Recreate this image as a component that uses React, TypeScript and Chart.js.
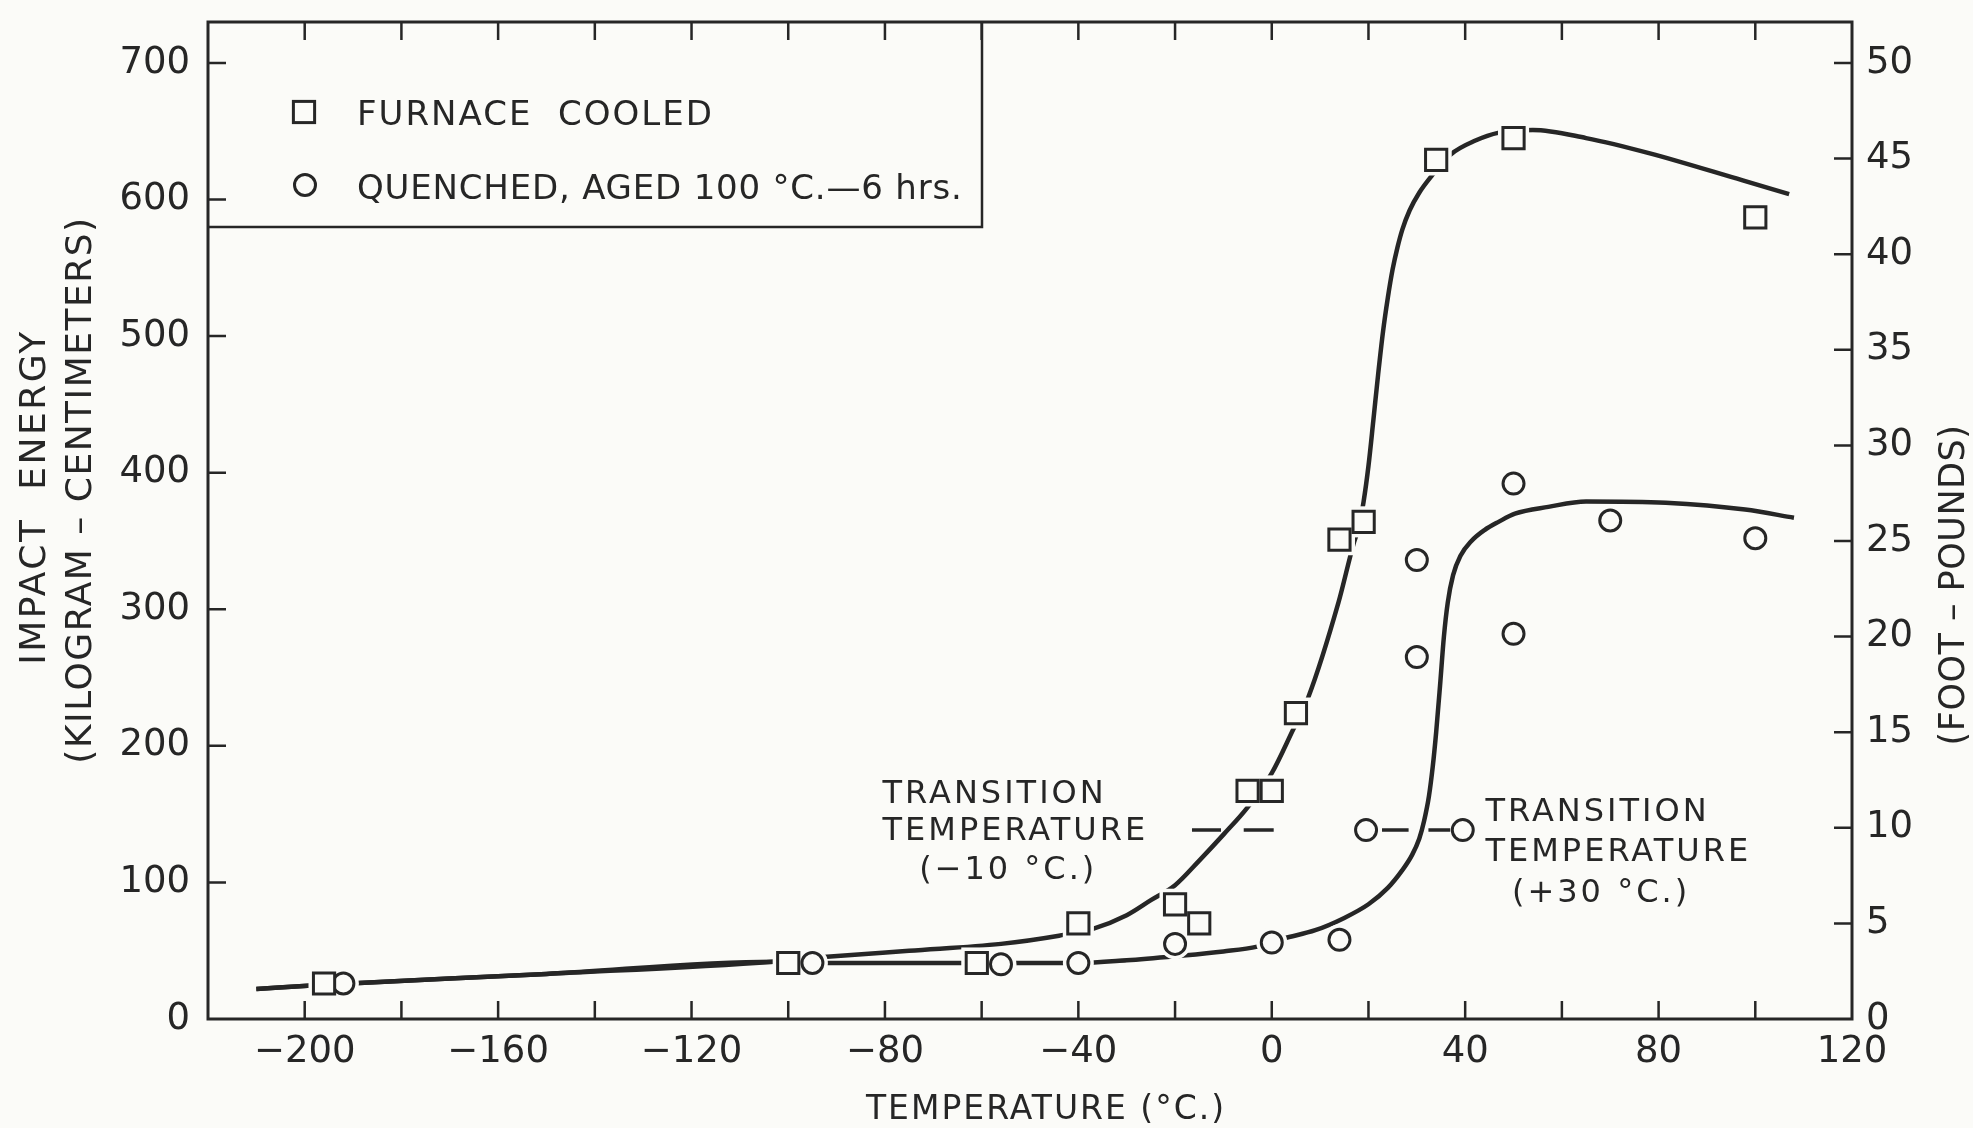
import React, { useEffect, useRef } from 'react';
import { Chart, registerables } from 'chart.js';

Chart.register(...registerables);

const W = 1973;
const H = 1128;
const BG = '#fbfbf8';
const INK = '#262626';
const FONT = '"DejaVu Sans", "Liberation Sans", sans-serif';

// ---------- measured points (temperature °C, impact energy kg-cm) ----------
const furnaceTemps = [-196, -100, -61, -40, -20, -15, -5, 0, 5, 14, 19, 34, 50, 100];
const furnaceEnergy = [26, 41, 41, 70, 84, 70, 167, 167, 224, 351, 364, 629, 645, 587];

const quenchedTemps = [-192, -95, -56, -40, -20, 0, 14, 30, 30, 50, 50, 70, 100];
const quenchedEnergy = [26, 41, 40, 41, 55, 56, 58, 336, 265, 392, 282, 365, 352];

// ---------- hand-drawn fitted curves ----------
const furnaceCurveTemps = [-210, -196, -150, -103, -92, -75, -56, -44, -37, -30, -25, -20, -15, -10, -5, 0, 4.3, 7.5, 13.8, 17, 18, 19, 20, 21, 22, 23, 24, 25, 26, 27, 28.5, 30.5, 33, 37, 42, 47, 54, 65, 78, 97.4, 107];
const furnaceCurveEnergy = [22, 25, 33, 42, 45.5, 50, 55, 61, 66, 76, 87, 98, 116, 135, 155, 180, 211, 235, 305, 349, 360, 379, 405, 438, 472, 503, 528, 549, 565, 578, 592, 605, 617, 633, 643, 649, 651, 645, 634, 614, 604];

const quenchedCurveTemps = [-210, -196, -150, -103, -92, -64, -40, -30, -20, -10, -3, 2.5, 9, 15, 20, 24, 27, 29, 30.5, 31.5, 32.5, 33.3, 34, 34.8, 35.6, 36.4, 37.5, 39, 41.3, 44, 46.9, 50.3, 57.2, 65, 81.5, 97.9, 108];
const quenchedCurveEnergy = [22, 25, 33, 42, 41, 41, 41, 43, 46, 49.5, 53, 59, 65, 74, 84, 96, 109, 120, 132, 145, 163, 185, 210, 244, 280, 305, 325, 339, 350, 358, 364, 370, 375, 379, 378, 373, 367];

// ---------- axes ----------
const X_MIN = -220;
const X_MAX = 120;
const Y_MAX = 730; // kg-cm at top of frame
const KGCM_PER_FTLB = 14; // 700 kg-cm aligned with 50 ft-lb on the drawing
const xLabelTicks = [-200, -160, -120, -80, -40, 0, 40, 80, 120];
const xMinorTicks = [-200, -180, -160, -140, -120, -100, -80, -60, -40, -20, 0, 20, 40, 60, 80, 100];
const yLeftTicks = [0, 100, 200, 300, 400, 500, 600, 700];
const yRightTicks = [0, 5, 10, 15, 20, 25, 30, 35, 40, 45, 50];

// ---------- transition-temperature annotations ----------
const transitionEnergy = 138.3; // 10 ft-lb
const leftTransitionDashes = [[-16.5, -10.5], [-5.8, 0.4]];
const rightTransitionCircles = [19.5, 39.5];
const rightTransitionDashes = [[22.8, 28.3], [32.4, 36.9]];
const leftTransitionLines = ['TRANSITION', 'TEMPERATURE', '(−10 °C.)'];
const rightTransitionLines = ['TRANSITION', 'TEMPERATURE', '(+30 °C.)'];

const legendLabels = ['FURNACE  COOLED', 'QUENCHED, AGED 100 °C.—6 hrs.'];

const SQUARE_R = 15;
const CIRCLE_R = 10.5;

const pts = (xs: number[], ys: number[]) => xs.map((x, i) => ({ x, y: ys[i] }));

function drawText(
  ctx: CanvasRenderingContext2D,
  s: string,
  x: number,
  y: number,
  size: number,
  align: CanvasTextAlign,
  spacing: number,
  rot = 0
) {
  ctx.save();
  ctx.translate(x, y);
  if (rot) ctx.rotate(rot);
  ctx.font = `${size}px ${FONT}`;
  (ctx as any).letterSpacing = `${spacing}px`;
  ctx.textAlign = align;
  ctx.textBaseline = 'alphabetic';
  ctx.fillStyle = INK;
  ctx.fillText(s, 0, (size * 0.729) / 2);
  ctx.restore();
}

function drawSquare(ctx: CanvasRenderingContext2D, x: number, y: number) {
  const s = Math.SQRT1_2 * SQUARE_R;
  ctx.fillStyle = BG;
  ctx.fillRect(x - s, y - s, 2 * s, 2 * s);
  ctx.strokeRect(x - s, y - s, 2 * s, 2 * s);
}

function drawCircle(ctx: CanvasRenderingContext2D, x: number, y: number) {
  ctx.beginPath();
  ctx.arc(x, y, CIRCLE_R, 0, Math.PI * 2);
  ctx.fillStyle = BG;
  ctx.fill();
  ctx.stroke();
}

const decorPlugin = {
  id: 'decor',
  beforeDraw(chart: any) {
    const ctx = chart.ctx as CanvasRenderingContext2D;
    ctx.save();
    ctx.fillStyle = BG;
    ctx.fillRect(0, 0, chart.width, chart.height);
    ctx.restore();
  },
  afterDraw(chart: any) {
    const ctx = chart.ctx as CanvasRenderingContext2D;
    const { left, right, top, bottom } = chart.chartArea;
    const xs = chart.scales.x;
    const ys = chart.scales.y;
    const y2 = chart.scales.y2;
    ctx.save();
    ctx.strokeStyle = INK;
    ctx.lineCap = 'butt';

    // frame
    ctx.lineWidth = 3;
    ctx.strokeRect(left, top, right - left, bottom - top);

    // inward tick marks
    ctx.lineWidth = 2.5;
    const TL = 18;
    ctx.beginPath();
    for (const v of xMinorTicks) {
      const px = xs.getPixelForValue(v);
      ctx.moveTo(px, bottom);
      ctx.lineTo(px, bottom - TL);
      ctx.moveTo(px, top);
      ctx.lineTo(px, top + TL);
    }
    for (const v of yLeftTicks) {
      if (v === 0) continue;
      const py = ys.getPixelForValue(v);
      ctx.moveTo(left, py);
      ctx.lineTo(left + TL, py);
    }
    for (const v of yRightTicks) {
      if (v === 0) continue;
      const py = y2.getPixelForValue(v);
      ctx.moveTo(right, py);
      ctx.lineTo(right - TL, py);
    }
    ctx.stroke();

    // legend box
    const lbRight = left + 774;
    const lbBottom = top + 205;
    ctx.lineWidth = 2.5;
    ctx.beginPath();
    ctx.moveTo(lbRight, top);
    ctx.lineTo(lbRight, lbBottom);
    ctx.lineTo(left, lbBottom);
    ctx.stroke();
    ctx.lineWidth = 3;
    drawSquare(ctx, left + 96, top + 90);
    drawCircle(ctx, left + 97, top + 163);
    drawText(ctx, legendLabels[0], left + 149, top + 91, 34, 'left', 2);
    drawText(ctx, legendLabels[1], left + 149, top + 165, 34, 'left', 0.8);

    // transition annotations
    const ty = ys.getPixelForValue(transitionEnergy);
    ctx.lineWidth = 3.5;
    ctx.beginPath();
    for (const [a, b] of [...leftTransitionDashes, ...rightTransitionDashes]) {
      ctx.moveTo(xs.getPixelForValue(a), ty);
      ctx.lineTo(xs.getPixelForValue(b), ty);
    }
    ctx.stroke();
    ctx.lineWidth = 3;
    for (const t of rightTransitionCircles) drawCircle(ctx, xs.getPixelForValue(t), ty);

    const lx = xs.getPixelForValue(-80.5);
    drawText(ctx, leftTransitionLines[0], lx, ys.getPixelForValue(166.7), 32, 'left', 3);
    drawText(ctx, leftTransitionLines[1], lx, ys.getPixelForValue(139.4), 32, 'left', 3);
    drawText(ctx, leftTransitionLines[2], xs.getPixelForValue(-54.5), ys.getPixelForValue(111.4), 32, 'center', 3);
    const rx = xs.getPixelForValue(44.2);
    drawText(ctx, rightTransitionLines[0], rx, ys.getPixelForValue(153.6), 32, 'left', 3);
    drawText(ctx, rightTransitionLines[1], rx, ys.getPixelForValue(124.1), 32, 'left', 3);
    drawText(ctx, rightTransitionLines[2], xs.getPixelForValue(68.1), ys.getPixelForValue(94.3), 32, 'center', 3);

    // axis titles
    drawText(ctx, 'IMPACT  ENERGY', 32, 497, 36, 'center', 2.5, -Math.PI / 2);
    drawText(ctx, '(KILOGRAM – CENTIMETERS)', 78, 490, 36, 'center', 1.5, -Math.PI / 2);
    drawText(ctx, '(FOOT – POUNDS)', 1951, 585, 35, 'center', 0.5, -Math.PI / 2);
    drawText(ctx, 'TEMPERATURE (°C.)', 1046, 1107, 33, 'center', 2);
    ctx.restore();
  },
};

export default function App() {
  const ref = useRef<HTMLCanvasElement>(null);

  useEffect(() => {
    const prevMargin = document.body.style.margin;
    document.body.style.margin = '0';
    const canvas = ref.current!;
    const tickFont = { family: FONT, size: 37 };

    const chart = new Chart(canvas, {
      type: 'line',
      data: {
        datasets: [
          {
            label: 'Furnace cooled',
            data: pts(furnaceTemps, furnaceEnergy),
            showLine: false,
            pointStyle: 'rect',
            pointRadius: SQUARE_R,
            pointBackgroundColor: BG,
            pointBorderColor: INK,
            pointBorderWidth: 3,
            order: 0,
          },
          {
            label: 'Quenched, aged 100 °C - 6 hrs',
            data: pts(quenchedTemps, quenchedEnergy),
            showLine: false,
            pointStyle: 'circle',
            pointRadius: CIRCLE_R,
            pointBackgroundColor: BG,
            pointBorderColor: INK,
            pointBorderWidth: 3,
            order: 0,
          },
          {
            label: 'halo-furnace',
            data: pts(furnaceTemps, furnaceEnergy),
            showLine: false,
            pointStyle: 'rect',
            pointRadius: SQUARE_R + 7,
            pointBackgroundColor: BG,
            pointBorderWidth: 0,
            pointBorderColor: BG,
            order: 1,
          },
          {
            label: 'halo-quenched',
            data: pts(quenchedTemps, quenchedEnergy),
            showLine: false,
            pointStyle: 'circle',
            pointRadius: CIRCLE_R + 5,
            pointBackgroundColor: BG,
            pointBorderWidth: 0,
            pointBorderColor: BG,
            order: 1,
          },
          {
            label: 'Furnace cooled curve',
            data: pts(furnaceCurveTemps, furnaceCurveEnergy),
            borderColor: INK,
            borderWidth: 4.5,
            pointRadius: 0,
            cubicInterpolationMode: 'monotone',
            fill: false,
            order: 2,
          },
          {
            label: 'Quenched curve',
            data: pts(quenchedCurveTemps, quenchedCurveEnergy),
            borderColor: INK,
            borderWidth: 4.5,
            pointRadius: 0,
            cubicInterpolationMode: 'monotone',
            fill: false,
            order: 2,
          },
        ],
      },
      options: {
        animation: false,
        responsive: false,
        maintainAspectRatio: false,
        devicePixelRatio: 1,
        events: [],
        layout: { padding: { top: 16, left: 0, right: 0, bottom: 0 } },
        plugins: {
          legend: { display: false },
          tooltip: { enabled: false },
        },
        scales: {
          x: {
            type: 'linear',
            position: 'bottom',
            min: X_MIN,
            max: X_MAX,
            grid: { display: false, drawTicks: false },
            border: { display: false },
            afterBuildTicks: (scale: any) => {
              scale.ticks = xLabelTicks.map((v) => ({ value: v }));
            },
            afterFit: (scale: any) => {
              scale.height = 109;
              scale.paddingLeft = 0;
              scale.paddingRight = 0;
            },
            ticks: {
              autoSkip: false,
              maxRotation: 0,
              minRotation: 0,
              padding: 11,
              color: INK,
              font: tickFont,
              callback: (v: any) => (Number(v) < 0 ? '−' + Math.abs(Number(v)) : String(v)),
            },
          },
          y: {
            type: 'linear',
            position: 'left',
            min: 0,
            max: Y_MAX,
            grid: { display: false, drawTicks: false },
            border: { display: false },
            afterBuildTicks: (scale: any) => {
              scale.ticks = yLeftTicks.map((v) => ({ value: v }));
            },
            afterFit: (scale: any) => {
              scale.width = 208;
              scale.paddingTop = 0;
              scale.paddingBottom = 0;
            },
            ticks: { padding: 18, color: INK, font: tickFont, callback: (v: any) => String(v) },
          },
          y2: {
            type: 'linear',
            position: 'right',
            min: 0,
            max: Y_MAX / KGCM_PER_FTLB,
            grid: { display: false, drawTicks: false },
            border: { display: false },
            afterBuildTicks: (scale: any) => {
              scale.ticks = yRightTicks.map((v) => ({ value: v }));
            },
            afterFit: (scale: any) => {
              scale.width = 121;
              scale.paddingTop = 0;
              scale.paddingBottom = 0;
            },
            ticks: { padding: 14, color: INK, font: tickFont, callback: (v: any) => String(v) },
          },
        },
      } as any,
      plugins: [decorPlugin],
    });

    return () => {
      chart.destroy();
      document.body.style.margin = prevMargin;
    };
  }, []);

  return (
    <div style={{ position: 'absolute', left: 0, top: 0, width: W, height: H, background: BG }}>
      <canvas ref={ref} width={W} height={H} style={{ display: 'block', width: W, height: H }} />
    </div>
  );
}
